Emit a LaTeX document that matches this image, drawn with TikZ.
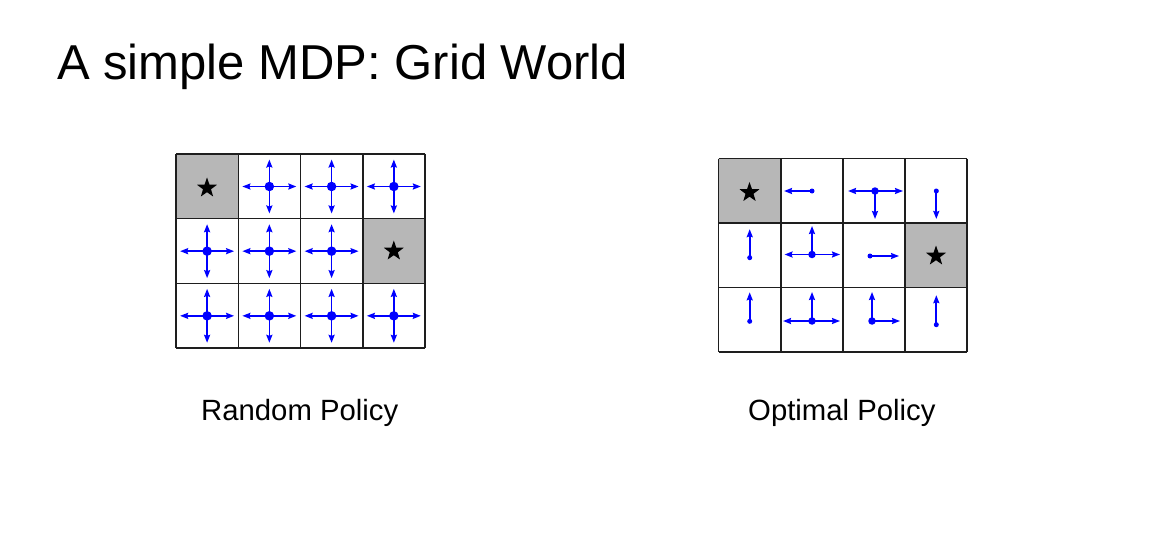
\documentclass[tikz,border=0pt]{standalone}
\usepackage{fontspec}
\setmainfont{Liberation Sans}
\usetikzlibrary{arrows.meta,shapes.geometric}
\definecolor{goalgray}{RGB}{183,183,183}
\definecolor{gridcol}{RGB}{30,30,30}
\begin{document}
\begin{tikzpicture}[x=1pt,y=-1pt,
  gridline/.style={line width=1.5pt, draw=gridcol},
  goal/.style={fill=goalgray},
  act/.style={draw=blue, line width=1.7pt, -{Stealth[length=8pt,width=6pt,inset=1pt]}},
  bigdot/.style={circle, fill=blue, inner sep=0pt, minimum size=9.5pt},
  meddot/.style={circle, fill=blue, inner sep=0pt, minimum size=7.5pt},
  smalldot/.style={circle, fill=blue, inner sep=0pt, minimum size=5pt},
  starmark/.style={star, star points=5, star point ratio=2.5, fill=black, draw=none, inner sep=0pt, minimum size=21pt},
  lbl/.style={font=\fontsize{29.3}{34}\selectfont, anchor=base west, inner sep=0pt},
  ttl/.style={font=\fontsize{49}{58}\selectfont, anchor=base west, inner sep=0pt}
]
\useasboundingbox (0,0) rectangle (1158,556);
\fill[white] (0,0) rectangle (1158,556);

% title
\node[ttl] (title) at (57,80) {A simple MDP: Grid World};

% ---------- left grid (random policy) ----------
\fill[goal] (176,154) rectangle (238.25,218.67);
\fill[goal] (362.75,218.67) rectangle (425,283.33);
\foreach \i in {0,...,4} {
  \draw[gridline] (176+62.25*\i,154) -- (176+62.25*\i,348);
}
\foreach \j in {0,...,3} {
  \draw[gridline] (176,154+64.67*\j) -- (425,154+64.67*\j);
}
\foreach \c/\r in {1/0,2/0,3/0,0/1,1/1,2/1,0/2,1/2,2/2,3/2} {
  \coordinate (L\c\r) at (207.1+62.25*\c,186.5+64.67*\r);
  \draw[act] (L\c\r) -- ++(27,0);
  \draw[act] (L\c\r) -- ++(-27,0);
  \draw[act] (L\c\r) -- ++(0,27);
  \draw[act] (L\c\r) -- ++(0,-27);
  \node[bigdot] (dL\c\r) at (L\c\r) {};
}
\node[starmark] (starL1) at (207,188) {};
\node[starmark] (starL2) at (393.8,251) {};
\node[lbl] (randlbl) at (201,420) {Random Policy};

% ---------- right grid (optimal policy) ----------
\fill[goal] (718.7,158.7) rectangle (780.8,223.1);
\fill[goal] (905.0,223.1) rectangle (967.1,287.5);
\foreach \i in {0,...,4} {
  \draw[gridline] (718.7+62.1*\i,158.7) -- (718.7+62.1*\i,352);
}
\foreach \j in {0,...,3} {
  \draw[gridline] (718.7,158.7+64.43*\j) -- (967.1,158.7+64.43*\j);
}
% cell (1,0): left
\coordinate (R10) at (812,191);
\draw[act] (R10) -- ++(-28,0);
\node[smalldot] (dR10) at (R10) {};
% cell (2,0): left, right, down
\coordinate (R20) at (875,191);
\draw[act] (R20) -- ++(-27,0);
\draw[act] (R20) -- ++(28,0);
\draw[act] (R20) -- ++(0,28);
\node[meddot] (dR20) at (R20) {};
% cell (3,0): down
\coordinate (R30) at (936.3,191);
\draw[act] (R30) -- ++(0,28);
\node[smalldot] (dR30) at (R30) {};
% cell (0,1): up
\coordinate (R01) at (749.7,257.7);
\draw[act] (R01) -- ++(0,-28.5);
\node[smalldot] (dR01) at (R01) {};
% cell (1,1): up, left, right
\coordinate (R11) at (812,254.5);
\draw[act] (R11) -- ++(0,-28.5);
\draw[act] (R11) -- ++(-27.5,0);
\draw[act] (R11) -- ++(28,0);
\node[meddot] (dR11) at (R11) {};
% cell (2,1): right
\coordinate (R21) at (870,256);
\draw[act] (R21) -- ++(29,0);
\node[smalldot] (dR21) at (R21) {};
% cell (0,2): up
\coordinate (R02) at (749.7,321.3);
\draw[act] (R02) -- ++(0,-29);
\node[smalldot] (dR02) at (R02) {};
% cell (1,2): up, left, right
\coordinate (R12) at (812,321);
\draw[act] (R12) -- ++(0,-29);
\draw[act] (R12) -- ++(-29,0);
\draw[act] (R12) -- ++(28,0);
\node[meddot] (dR12) at (R12) {};
% cell (2,2): up, right
\coordinate (R22) at (872,321);
\draw[act] (R22) -- ++(0,-29);
\draw[act] (R22) -- ++(28,0);
\node[meddot] (dR22) at (R22) {};
% cell (3,2): up
\coordinate (R32) at (936.3,324.7);
\draw[act] (R32) -- ++(0,-29.5);
\node[smalldot] (dR32) at (R32) {};

\node[starmark] (starR1) at (749.5,192.5) {};
\node[starmark] (starR2) at (936,256) {};
\node[lbl] (optlbl) at (748,420) {Optimal Policy};
\end{tikzpicture}
\end{document}
